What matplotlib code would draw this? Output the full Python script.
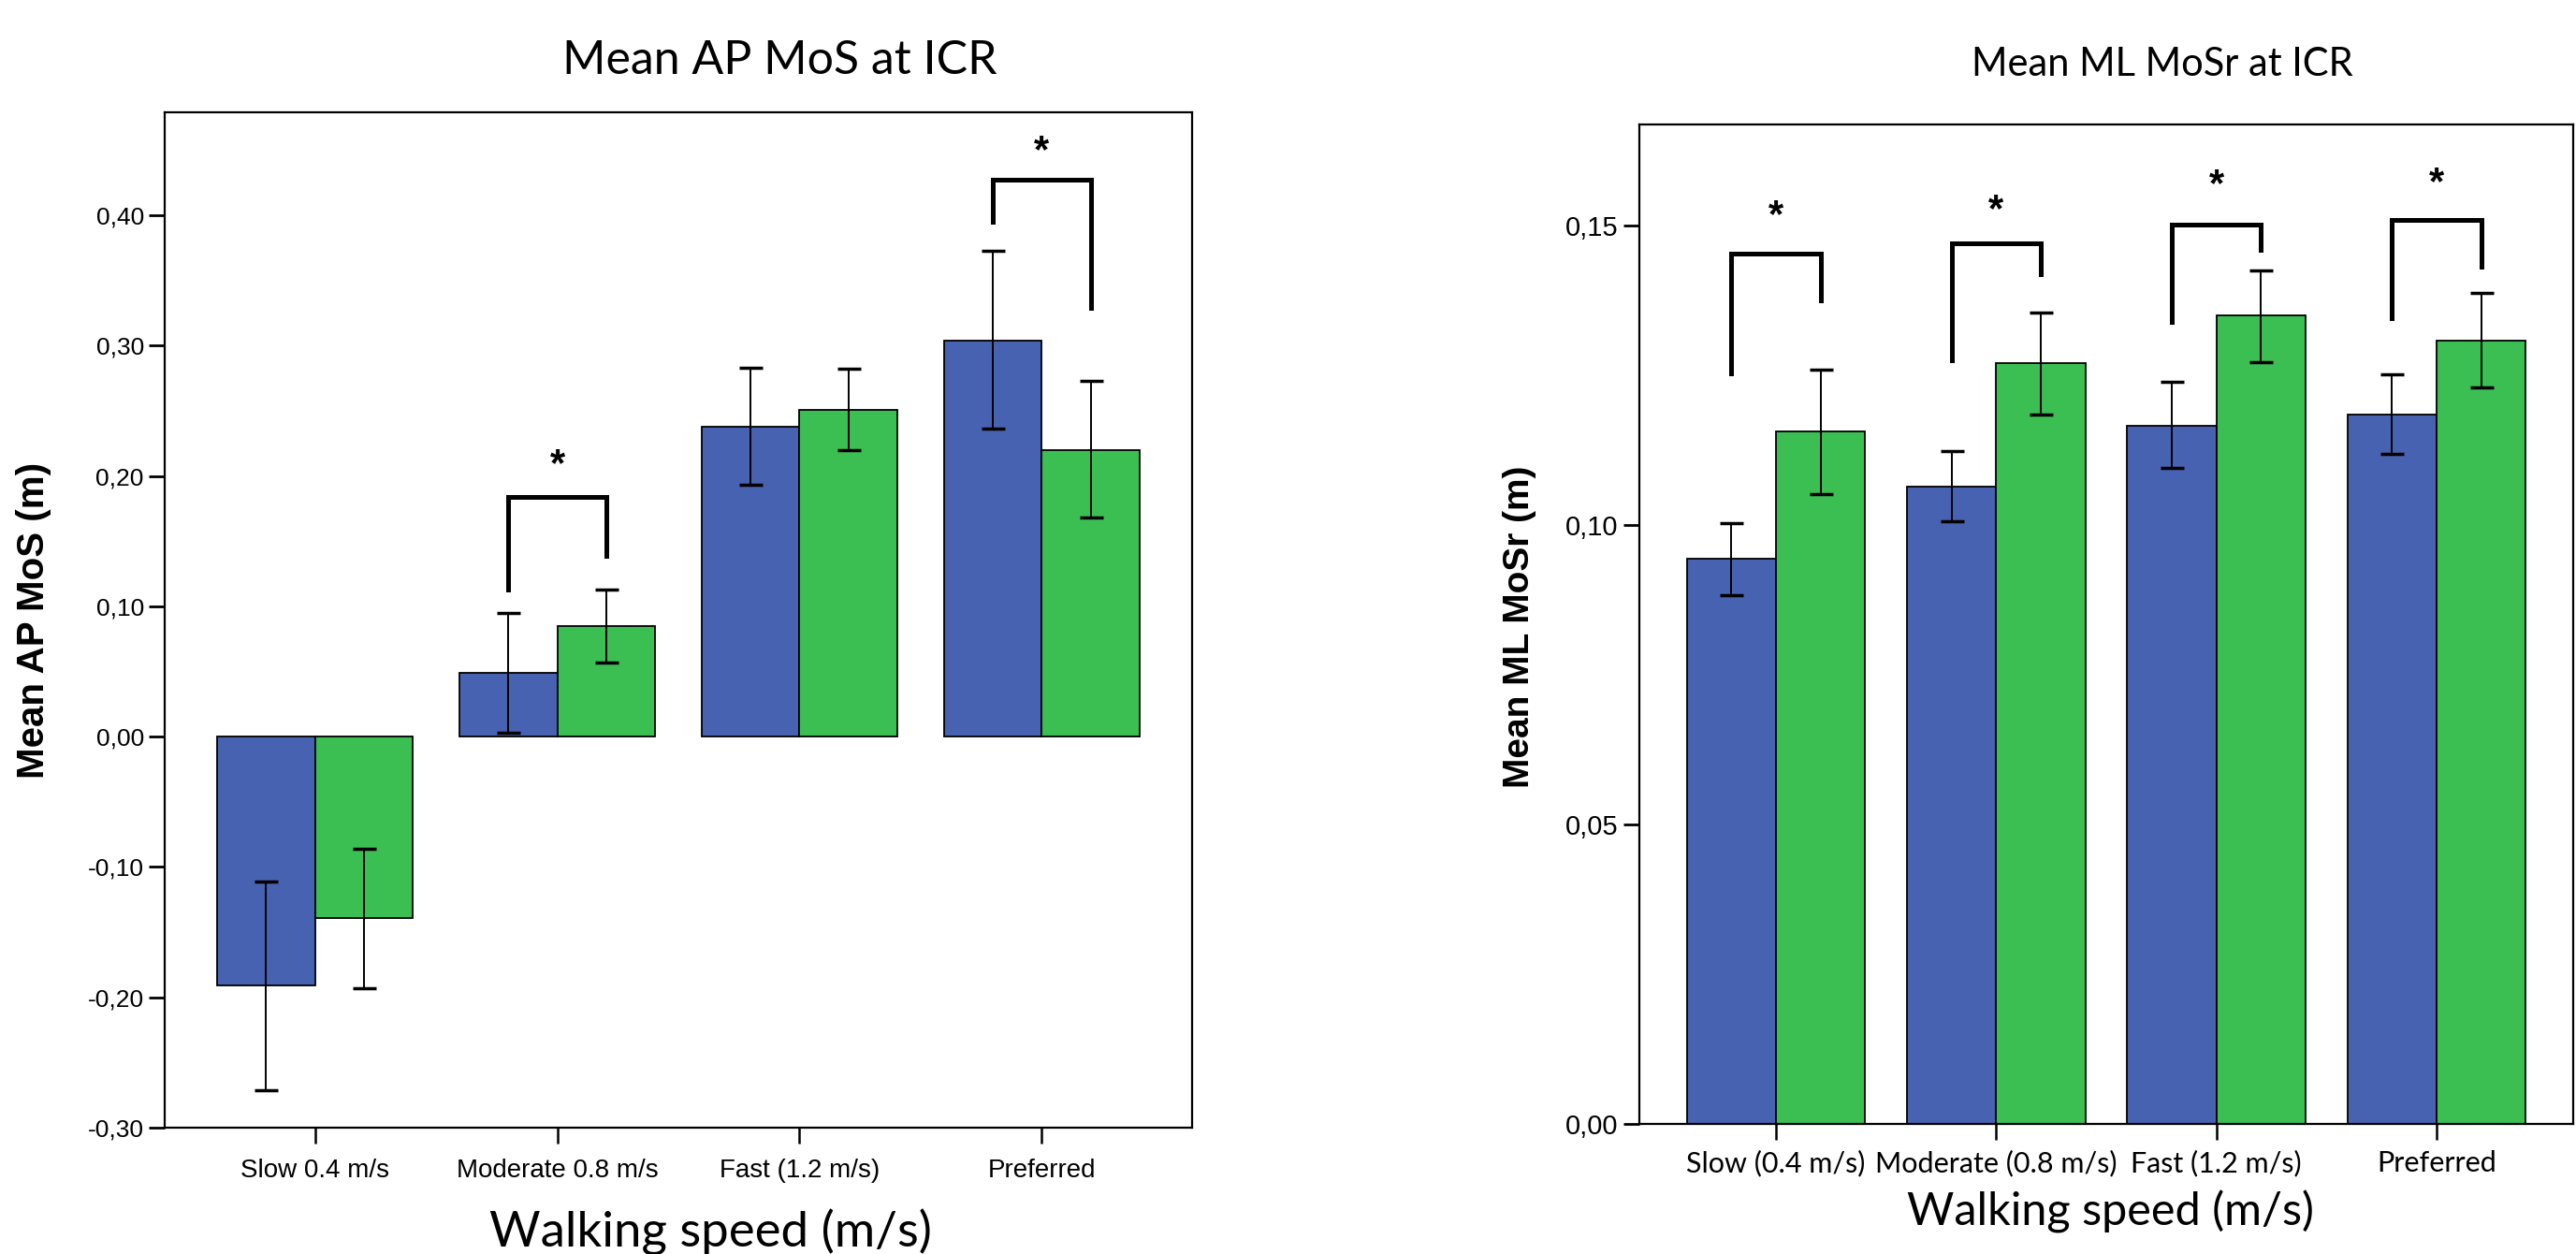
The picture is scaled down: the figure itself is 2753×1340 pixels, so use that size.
# Mean margin of stability at ICR: AP (left) and ML (right) bar charts
import matplotlib
matplotlib.use("Agg")
import matplotlib.pyplot as plt
import numpy as np

# --- data ---
ap_labels = ["Slow 0.4 m/s", "Moderate 0.8 m/s", "Fast (1.2 m/s)", "Preferred"]
ap_blue = [-0.191, 0.049, 0.238, 0.304]
ap_blue_lo = [-0.271, 0.003, 0.193, 0.236]
ap_blue_hi = [-0.111, 0.095, 0.283, 0.373]
ap_green = [-0.139, 0.085, 0.251, 0.220]
ap_green_lo = [-0.193, 0.057, 0.220, 0.168]
ap_green_hi = [-0.086, 0.113, 0.282, 0.273]
# significance brackets: category index, top, left leg end, right leg end, star
ap_sig_idx = [1, 3]
ap_sig_top = [0.184, 0.427]
ap_sig_left = [0.113, 0.395]
ap_sig_right = [0.139, 0.329]
ap_sig_star = [0.208, 0.449]

ml_labels = ["Slow (0.4 m/s)", "Moderate (0.8 m/s)", "Fast (1.2 m/s)", "Preferred"]
ml_blue = [0.0944, 0.1064, 0.1166, 0.1185]
ml_blue_lo = [0.0883, 0.1006, 0.1095, 0.1119]
ml_blue_hi = [0.1003, 0.1123, 0.1240, 0.1252]
ml_green = [0.1156, 0.1270, 0.1350, 0.1308]
ml_green_lo = [0.1052, 0.1184, 0.1272, 0.1230]
ml_green_hi = [0.1260, 0.1355, 0.1425, 0.1388]
ml_sig_idx = [0, 1, 2, 3]
ml_sig_top = [0.1453, 0.1470, 0.1502, 0.1510]
ml_sig_left = [0.1253, 0.1275, 0.1340, 0.1345]
ml_sig_right = [0.1375, 0.1419, 0.1460, 0.1432]
ml_sig_star = [0.1515, 0.1525, 0.1567, 0.1570]

BLUE = "#4762B1"
GREEN = "#3BBF53"
NARROW = ["Liberation Sans Narrow", "Liberation Sans", "DejaVu Sans"]
CAL = ["Lato", "DejaVu Sans"]
BOLD = ["Liberation Sans", "DejaVu Sans"]
W = 0.405

fig = plt.figure(figsize=(27.53, 13.40), dpi=100)


def draw_panel(ax, labels, blue, blo, bhi, green, glo, ghi,
               sig_idx, sig_top, sig_left, sig_right, sig_star, tickfont, tsize):
    x = np.arange(len(labels))
    blue = np.array(blue)
    green = np.array(green)
    berr = [blue - np.array(blo), np.array(bhi) - blue]
    gerr = [green - np.array(glo), np.array(ghi) - green]
    ax.bar(x - W / 2, blue, W, color=BLUE, edgecolor="black", linewidth=1.3)
    ax.bar(x + W / 2, green, W, color=GREEN, edgecolor="black", linewidth=1.3)
    ax.errorbar(x - W / 2, blue, yerr=berr, fmt="none", ecolor="black",
                elinewidth=1.4, capsize=9, capthick=2.5)
    ax.errorbar(x + W / 2, green, yerr=gerr, fmt="none", ecolor="black",
                elinewidth=1.4, capsize=9, capthick=2.5)
    for i, t, l, r, s in zip(sig_idx, sig_top, sig_left, sig_right, sig_star):
        xl, xr = i - W / 2, i + W / 2
        ax.plot([xl, xl, xr, xr], [l, t, t, r], color="black", lw=3.6,
                solid_joinstyle="miter")
        ax.text(i, s, "*", ha="center", va="center", fontsize=30,
                fontweight="bold", family=BOLD)
    ax.set_xlim(-0.62, 3.62)
    ax.set_xticks(x)
    ax.set_xticklabels(labels, family=tickfont, fontsize=tsize)
    for sp in ax.spines.values():
        sp.set_linewidth(1.6)
    ax.tick_params(axis="x", length=12, width=1.8, pad=12)
    ax.tick_params(axis="y", length=12, width=2, pad=4)


# left panel
ax1 = fig.add_axes([176 / 2753, 1 - 1205 / 1340, 1098 / 2753, 1085 / 1340])
draw_panel(ax1, ap_labels, ap_blue, ap_blue_lo, ap_blue_hi,
           ap_green, ap_green_lo, ap_green_hi,
           ap_sig_idx, ap_sig_top, ap_sig_left, ap_sig_right, ap_sig_star,
           NARROW, 20)
ax1.set_ylim(-0.30, 0.479)
yt = np.arange(-0.3, 0.41, 0.1)
ax1.set_yticks(yt)
ax1.set_yticklabels([f"{v:.2f}".replace(".", ",") for v in yt],
                    family=NARROW, fontsize=19)

# right panel
ax2 = fig.add_axes([1752 / 2753, 1 - 1201 / 1340, 998 / 2753, 1068 / 1340])
draw_panel(ax2, ml_labels, ml_blue, ml_blue_lo, ml_blue_hi,
           ml_green, ml_green_lo, ml_green_hi,
           ml_sig_idx, ml_sig_top, ml_sig_left, ml_sig_right, ml_sig_star,
           CAL, 22)
ax2.set_ylim(0, 0.1669)
ax2.set_yticks([0, 0.05, 0.10, 0.15])
ax2.set_yticklabels(["0,00", "0,05", "0,10", "0,15"], family=NARROW, fontsize=21)
ax2.tick_params(axis="x", pad=8)

# titles and axis labels
fig.text(833 / 2753, 1 - 65 / 1340, "Mean AP MoS at ICR", ha="center",
         va="center", family=CAL, fontsize=36)
fig.text(2311 / 2753, 1 - 69 / 1340, "Mean ML MoSr at ICR", ha="center",
         va="center", family=CAL, fontsize=30)
fig.text(759 / 2753, 1 - 1317 / 1340, "Walking speed (m/s)", ha="center",
         va="center", family=CAL, fontsize=38)
fig.text(2256 / 2753, 1 - 1295 / 1340, "Walking speed (m/s)", ha="center",
         va="center", family=CAL, fontsize=35)
fig.text(36 / 2753, 1 - 663 / 1340, "Mean AP MoS (m)", ha="center",
         va="center", rotation=90, family=BOLD, fontweight="bold", fontsize=29)
fig.text(1624 / 2753, 1 - 670 / 1340, "Mean ML MoSr (m)", ha="center",
         va="center", rotation=90, family=BOLD, fontweight="bold", fontsize=28)

fig.savefig("out.png", dpi=100)
plt.close(fig)
